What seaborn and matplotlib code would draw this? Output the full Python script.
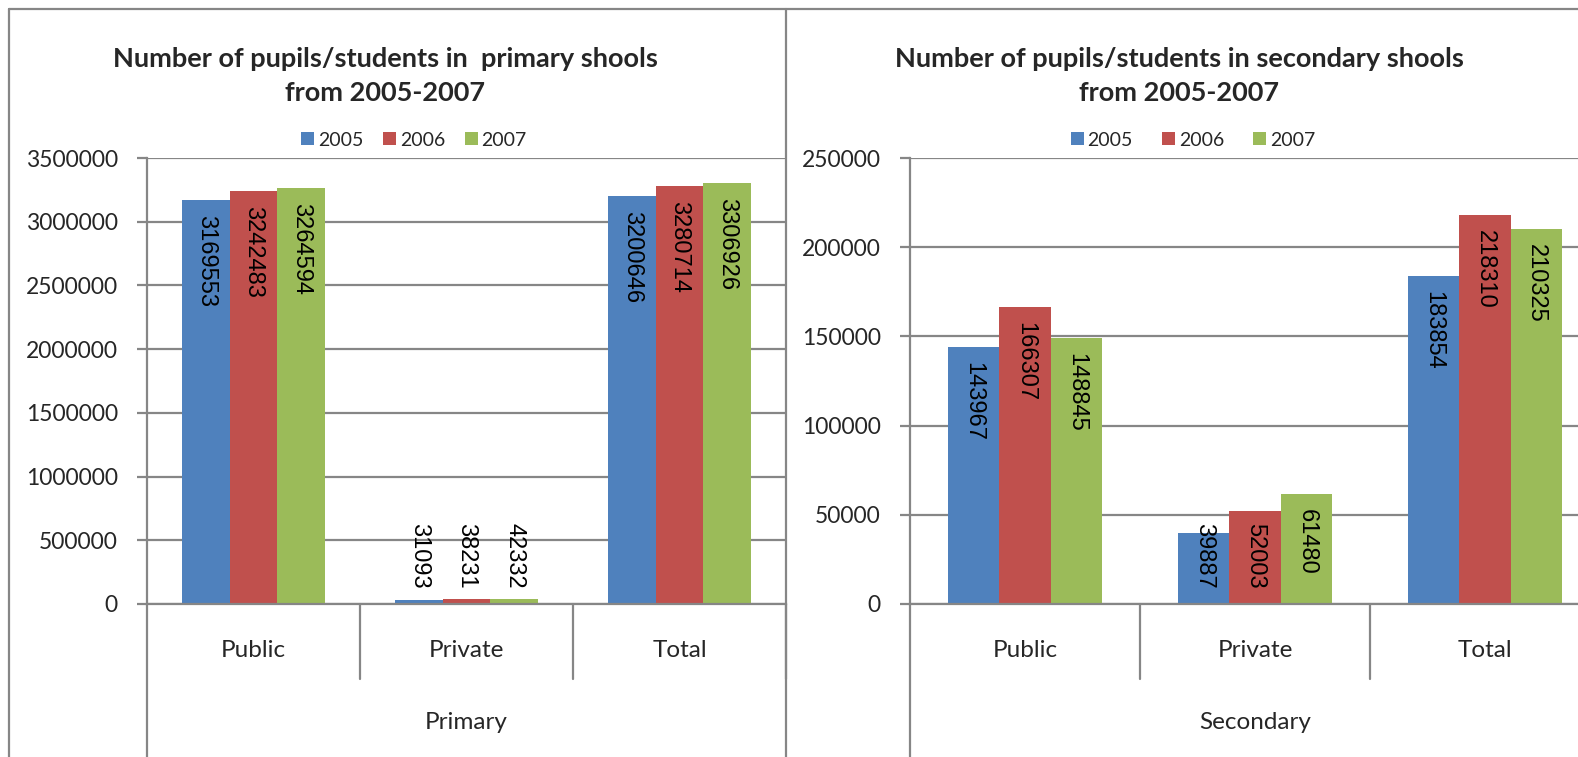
import matplotlib
matplotlib.use("Agg")
import matplotlib.pyplot as plt
import matplotlib.ticker as mticker
import matplotlib.transforms as mtrans
from matplotlib.lines import Line2D
import seaborn as sns
import pandas as pd

# === Datos ===
categories = ["Public", "Private", "Total"]
years = ["2005", "2006", "2007"]

primary_2005 = [3169553, 31093, 3200646]
primary_2006 = [3242483, 38231, 3280714]
primary_2007 = [3264594, 42332, 3306926]

secondary_2005 = [143967, 39887, 183854]
secondary_2006 = [166307, 52003, 218310]
secondary_2007 = [148845, 61480, 210325]

primary_ticks = [0, 500000, 1000000, 1500000, 2000000, 2500000, 3000000, 3500000]
secondary_ticks = [0, 50000, 100000, 150000, 200000, 250000]

title_primary = "Number of pupils/students in  primary shools\nfrom 2005-2007"
title_secondary = "Number of pupils/students in secondary shools\nfrom 2005-2007"

colors = ["#4F81BD", "#C0504D", "#9BBB59"]
GRID = "#868686"

# === Fuentes ===
sns.set_theme(style="white")
plt.rcParams["font.family"] = ["Lato", "DejaVu Sans"]
LABELF = "Liberation Sans"

W, H = 1578, 757
fig = plt.figure(figsize=(W / 100, H / 100), dpi=100)


def make_df(v05, v06, v07):
    rows = []
    for yr, vals in zip(years, [v05, v06, v07]):
        for c, v in zip(categories, vals):
            rows.append({"category": c, "year": yr, "value": v})
    return pd.DataFrame(rows)


def draw_panel(ax, df, ticks, group_label, title, title_x, legend_x, colspace):
    sns.barplot(data=df, x="category", y="value", hue="year", order=categories,
                hue_order=years, palette=colors, width=0.67, gap=0, saturation=1,
                linewidth=0, errorbar=None, ax=ax)
    handles, labels = ax.get_legend_handles_labels()
    ax.get_legend().remove()
    fig.legend(handles, labels, loc="center", bbox_to_anchor=(legend_x, 1 - 140 / H),
               ncol=3, frameon=False, fontsize=14, handlelength=0.67, handleheight=0.67,
               handletextpad=0.2, columnspacing=colspace)

    ax.set_xlim(-0.5, 2.5)
    ax.set_ylim(0, ticks[-1])
    ax.set_yticks(ticks)
    ax.yaxis.set_major_formatter(mticker.StrMethodFormatter("{x:.0f}"))
    ax.yaxis.grid(True, color=GRID, lw=1.6)
    ax.set_axisbelow(True)
    for s in ["top", "right"]:
        ax.spines[s].set_visible(False)
    for s in ["left", "bottom"]:
        ax.spines[s].set_color(GRID)
        ax.spines[s].set_linewidth(1.6)
    ax.tick_params(axis="y", left=True, length=7, width=1.6, color=GRID, pad=14, labelsize=16.5)
    ax.tick_params(axis="x", length=0, pad=26, labelsize=17.5)
    ax.set_xlabel("")
    ax.set_ylabel("")

    # lineas de separacion de categorias (estilo Excel)
    trans = mtrans.blended_transform_factory(ax.transData, ax.transAxes)
    for xb in [-0.5, 0.5, 1.5, 2.5]:
        depth = -0.35 if xb == -0.5 else -0.168
        ax.plot([xb, xb], [0, depth], transform=trans, clip_on=False, color=GRID, lw=1.6)
    ax.text(1, -0.265, group_label, transform=trans, ha="center", va="center", fontsize=17.5)

    fig.text(title_x, 1 - 76 / H, title, ha="center", va="center", fontsize=19.5,
             fontweight="bold", linespacing=1.5)


def place_labels(ax, values, pad=15):
    items = []
    for cont, vals in zip(ax.containers, values):
        for bar, v in zip(cont, vals):
            x = bar.get_x() + bar.get_width() / 2
            t = ax.text(x, bar.get_height(), str(v), rotation=270, ha="center", va="top",
                        fontsize=17, family=LABELF, color="black")
            items.append((t, bar))
    fig.canvas.draw()
    r = fig.canvas.get_renderer()
    for t, bar in items:
        h = t.get_window_extent(r).height
        top = ax.transData.transform((0, bar.get_height()))[1] - pad
        base = ax.transData.transform((0, 0))[1]
        top = max(top, base + pad + h)
        t.set_y(ax.transData.inverted().transform((0, top))[1])


axL = fig.add_axes([147 / W, 1 - 604 / H, (786 - 147) / W, 446 / H])
axR = fig.add_axes([910 / W, 1 - 604 / H, (1600 - 910) / W, 446 / H])

draw_panel(axL, make_df(primary_2005, primary_2006, primary_2007), primary_ticks,
           "Primary", title_primary, 385 / W, 414 / W, 1.0)
draw_panel(axR, make_df(secondary_2005, secondary_2006, secondary_2007), secondary_ticks,
           "Secondary", title_secondary, 1179 / W, 1193 / W, 1.5)

place_labels(axL, [primary_2005, primary_2006, primary_2007])
place_labels(axR, [secondary_2005, secondary_2006, secondary_2007])

# === Marco de los graficos ===
for line in [
    Line2D([9 / W, 1], [1 - 9 / H, 1 - 9 / H]),
    Line2D([9 / W, 9 / W], [0, 1 - 9 / H]),
    Line2D([786 / W, 786 / W], [0, 1 - 9 / H]),
]:
    line.set_transform(fig.transFigure)
    line.set_color(GRID)
    line.set_linewidth(1.6)
    fig.add_artist(line)

fig.savefig("out.png", dpi=100)
